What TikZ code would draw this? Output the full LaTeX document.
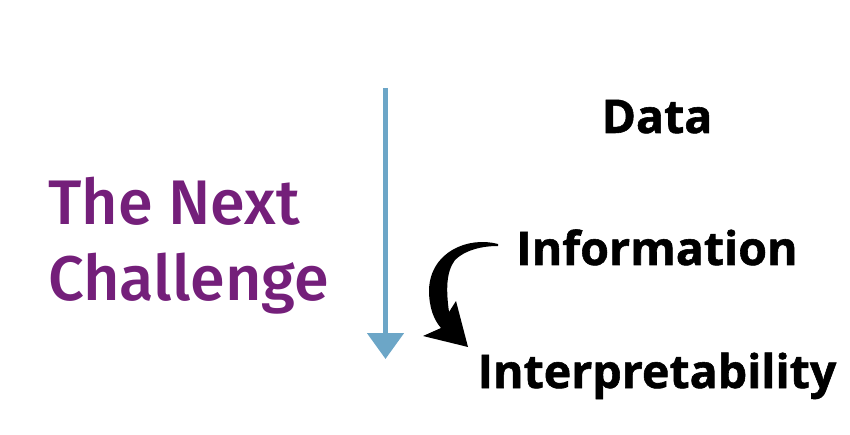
\documentclass[tikz,border=0pt]{standalone}
\usepackage{fontspec}
\usepackage{tikz}
\usetikzlibrary{arrows.meta}
\newfontfamily\titlefont{Fira Sans Medium}
\newfontfamily\labelfont{Open Sans}[BoldFeatures={FakeBold=1.2}]
\definecolor{plum}{RGB}{116, 31, 122}
\definecolor{steelblue}{RGB}{108, 166, 199}
\tikzset{
    titletext/.style={inner sep=0pt, anchor=base west, text=plum, font=\titlefont\fontsize{63}{75}\selectfont},
    steptext/.style={inner sep=0pt, anchor=base, text=black, font=\labelfont\bfseries\fontsize{46.5}{56}\selectfont}
}
\begin{document}
\begin{tikzpicture}[x=1pt, y=-1pt]
            \useasboundingbox                                            (0, 0) rectangle (850, 435);
            \node[titletext] (next)      at ( 48, 225) {The Next};
            \node[titletext] (challenge) at ( 48, 300) {Challenge};
            \node[steptext]  (data)      at (657, 133) {Data};
            \node[steptext]  (info)      at (657, 265) {Information};
            \node[steptext]  (interp)    at (657, 388) {Interpretability};
            \coordinate (flowtop)    at (385.5,  88);
            \coordinate (flowbottom) at (385.5, 359);
            \draw[color=steelblue, line width=5pt, -{Triangle[width=36pt, length=26pt]}] (flowtop) -- (flowbottom);
            \fill[black] (498,244) .. controls (468,236) and (430,252) .. (429,290)
                               .. controls (429,308) and (434,320) .. (441,328)
                               -- (423,336) -- (468,347) -- (456,301) -- (449,312)
                               .. controls (446,290) and (446,272) .. (455,260)
                               .. controls (465,250) and (482,246) .. (498,246) -- cycle;
        \end{tikzpicture}
\end{document}
